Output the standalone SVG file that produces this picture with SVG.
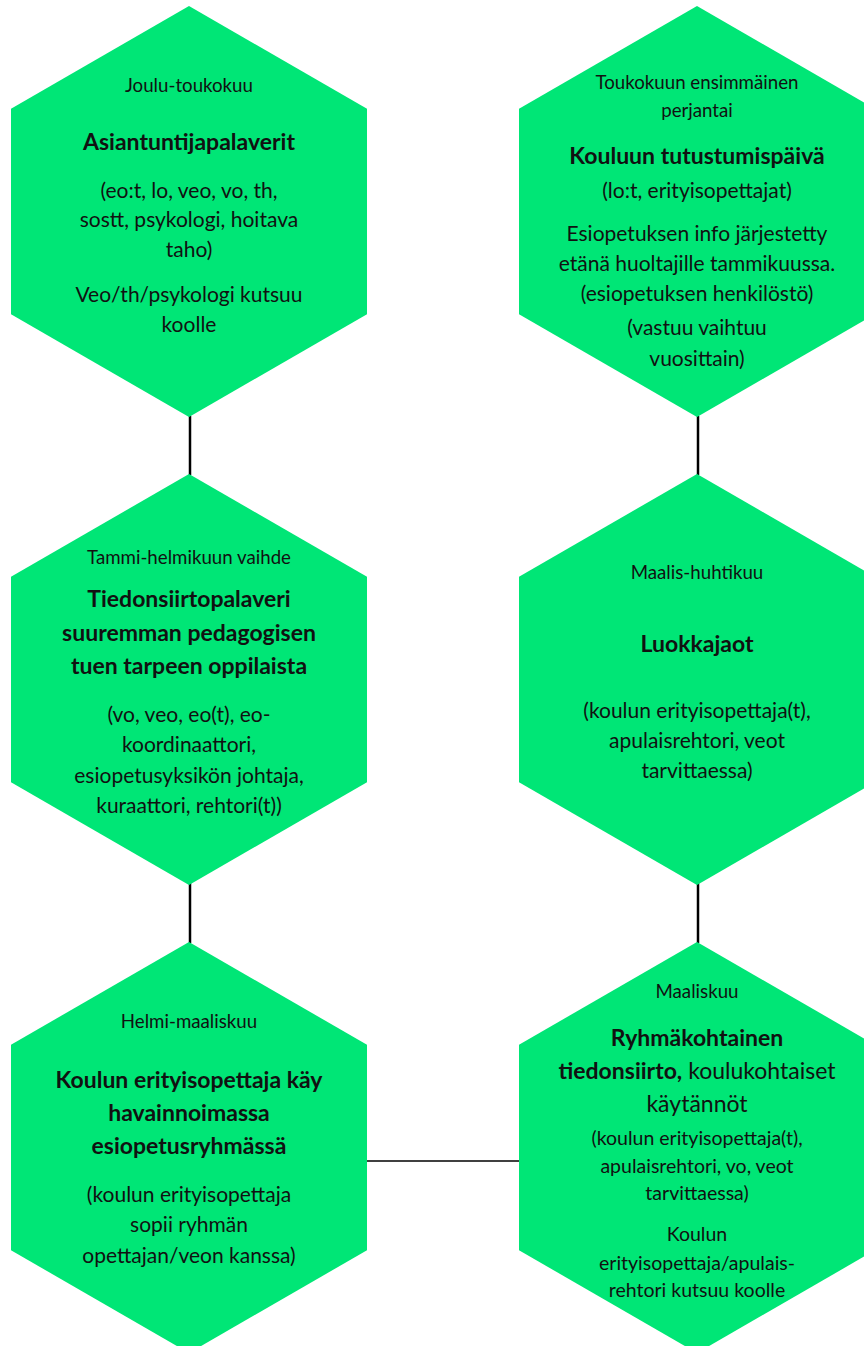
<svg xmlns="http://www.w3.org/2000/svg" width="864" height="1346" viewBox="0 0 864 1346">
<style>
.hex{fill:#00E676;}
.con{stroke:#000;fill:none;}
text{font-family:Lato,"Open Sans","Liberation Sans",sans-serif;fill:#111;text-anchor:middle;}
.s{font-size:18.7px;}
.b{font-size:21px;}
.bs{font-size:19.5px;}
.h{font-size:23px;font-weight:bold;}
.hr{font-size:23px;}
</style>
<rect width="864" height="1346" fill="#fff"/>
<g id="connectors">
<line class="con" x1="190" y1="416" x2="190" y2="475" stroke-width="2.5"/>
<line class="con" x1="190" y1="883" x2="190" y2="943" stroke-width="2.5"/>
<line class="con" x1="698" y1="416" x2="698" y2="475" stroke-width="2.5"/>
<line class="con" x1="698" y1="883" x2="698" y2="943" stroke-width="2.5"/>
<line class="con" x1="366" y1="1161" x2="520" y2="1161" stroke-width="1.5"/>
</g>
<g id="node1">
<polygon class="hex" points="189,6 367,108.75 367,314.25 189,417 11,314.25 11,108.75"/>
<text class="s" x="189" y="92">Joulu-toukokuu</text>
<text class="h" x="189" y="150">Asiantuntijapalaverit</text>
<text class="b" x="189" y="198">(eo:t, lo, veo, vo, th,</text>
<text class="b" x="189" y="227">sostt, psykologi, hoitava</text>
<text class="b" x="189" y="257">taho)</text>
<text class="b" x="189" y="302">Veo/th/psykologi kutsuu</text>
<text class="b" x="189" y="332">koolle</text>
</g>
<g id="node2">
<polygon class="hex" points="697,6 875,108.75 875,314.25 697,417 519,314.25 519,108.75"/>
<text class="s" x="697" y="89">Toukokuun ensimmäinen</text>
<text class="s" x="697" y="117">perjantai</text>
<text class="h" x="697" y="164">Kouluun tutustumispäivä</text>
<text class="b" x="697" y="198">(lo:t, erityisopettajat)</text>
<text class="b" x="697" y="241">Esiopetuksen info järjestetty</text>
<text class="b" x="697" y="271">etänä huoltajille tammikuussa.</text>
<text class="b" x="697" y="301">(esiopetuksen henkilöstö)</text>
<text class="b" x="697" y="335">(vastuu vaihtuu</text>
<text class="b" x="697" y="366">vuosittain)</text>
</g>
<g id="node3">
<polygon class="hex" points="189,474 367,576.75 367,782.25 189,885 11,782.25 11,576.75"/>
<text class="s" x="189" y="564">Tammi-helmikuun vaihde</text>
<text class="h" x="189" y="607">Tiedonsiirtopalaveri</text>
<text class="h" x="189" y="641">suuremman pedagogisen</text>
<text class="h" x="189" y="674">tuen tarpeen oppilaista</text>
<text class="b" x="189" y="722">(vo, veo, eo(t), eo-</text>
<text class="b" x="189" y="752">koordinaattori,</text>
<text class="b" x="189" y="783">esiopetusyksikön johtaja,</text>
<text class="b" x="189" y="813">kuraattori, rehtori(t))</text>
</g>
<g id="node4">
<polygon class="hex" points="697,474 875,576.75 875,782.25 697,885 519,782.25 519,576.75"/>
<text class="s" x="697" y="579">Maalis-huhtikuu</text>
<text class="h" x="697" y="652">Luokkajaot</text>
<text class="b" x="697" y="718">(koulun erityisopettaja(t),</text>
<text class="b" x="697" y="748">apulaisrehtori, veot</text>
<text class="b" x="697" y="778">tarvittaessa)</text>
</g>
<g id="node5">
<polygon class="hex" points="189,942 367,1044.75 367,1250.25 189,1353 11,1250.25 11,1044.75"/>
<text class="s" x="189" y="1028">Helmi-maaliskuu</text>
<text class="h" x="189" y="1088">Koulun erityisopettaja käy</text>
<text class="h" x="189" y="1121">havainnoimassa</text>
<text class="h" x="189" y="1154">esiopetusryhmässä</text>
<text class="b" x="189" y="1202">(koulun erityisopettaja</text>
<text class="b" x="189" y="1232">sopii ryhmän</text>
<text class="b" x="189" y="1263">opettajan/veon kanssa)</text>
</g>
<g id="node6">
<polygon class="hex" points="697,942 875,1044.75 875,1250.25 697,1353 519,1250.25 519,1044.75"/>
<text class="s" x="697" y="998">Maaliskuu</text>
<text class="h" x="697" y="1046">Ryhmäkohtainen</text>
<text class="hr" x="697" y="1079"><tspan font-weight="bold">tiedonsiirto,</tspan> koulukohtaiset</text>
<text class="hr" x="697" y="1112">käytännöt</text>
<text class="bs" x="697" y="1145">(koulun erityisopettaja(t),</text>
<text class="bs" x="697" y="1173">apulaisrehtori, vo, veot</text>
<text class="bs" x="697" y="1200">tarvittaessa)</text>
<text class="bs" x="697" y="1241">Koulun</text>
<text class="bs" x="697" y="1270">erityisopettaja/apulais-</text>
<text class="bs" x="697" y="1297">rehtori kutsuu koolle</text>
</g>
</svg>
